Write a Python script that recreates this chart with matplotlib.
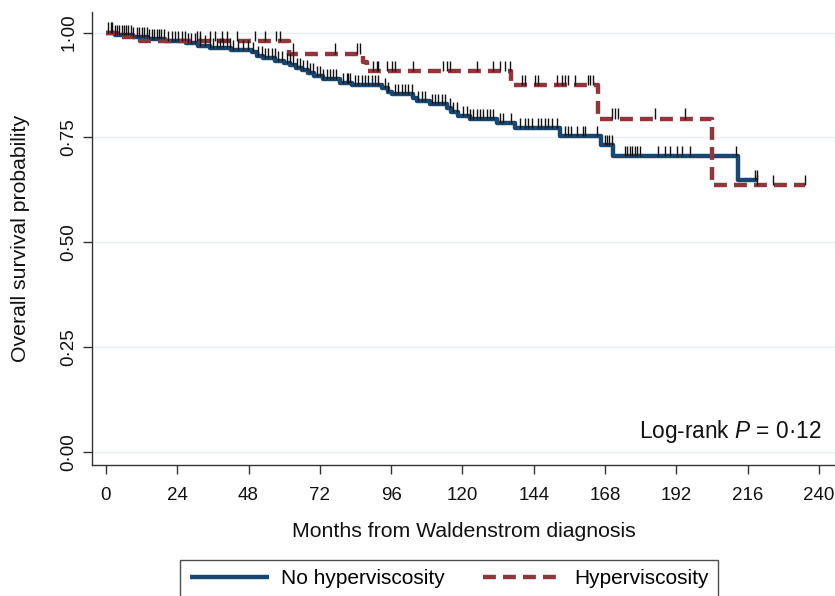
import numpy as np
import matplotlib
matplotlib.use("Agg")
import matplotlib.pyplot as plt
from matplotlib.ticker import FuncFormatter

plt.rcParams['font.family'] = ['Liberation Sans', 'DejaVu Sans']
plt.rcParams['mathtext.fontset'] = 'custom'
plt.rcParams['mathtext.rm'] = 'Liberation Sans'
plt.rcParams['mathtext.it'] = 'Liberation Sans:italic'

# ---- data ----
no_hv_times = [0, 3, 9, 14, 20, 27, 31, 35, 42, 49, 51, 53, 57, 60, 62, 64, 66, 68, 70, 73,
               78.8, 82.7, 92.8, 95, 96.2, 103.4, 104.6, 109, 114.7, 116.3, 118.6, 122.5,
               131.5, 137.7, 152.8, 166.8, 170.8, 212.8, 219.6]
no_hv_surv = [1.0, 0.995, 0.990, 0.985, 0.980, 0.975, 0.969, 0.963, 0.958, 0.953, 0.945,
              0.940, 0.933, 0.928, 0.922, 0.916, 0.910, 0.903, 0.897, 0.890,
              0.880, 0.874, 0.867, 0.859, 0.853, 0.843, 0.837, 0.829, 0.819, 0.811, 0.801,
              0.794, 0.785, 0.772, 0.753, 0.732, 0.706, 0.648, 0.648]
no_hv_censor = [0.8, 1.6, 2.2, 3.0, 3.8, 4.5, 5.3, 6.1, 6.7, 7.5, 8.3, 9.0, 10.3, 11.1, 12.0,
                12.8, 13.7, 14.5, 15.4, 16.2, 17.1, 17.8, 18.7, 19.5, 21, 22.1, 23.2, 24.3,
                25.5, 26.6, 27.7, 28.8, 30, 31.6, 33.3, 35, 36.1, 37.3, 38.4, 39.5, 40.6,
                41.7, 42.8, 44.5, 46.2, 47.9, 49.6, 51.3, 52.4, 53.5, 54.6, 55.8, 56.9, 58,
                59.1, 60.8, 61.9, 63, 64.2, 65.3, 66.4, 67.6, 68.7, 69.8, 70.9, 72, 73.1,
                74.3, 75.4, 76.5, 77.6, 79.9, 81, 81.6, 82.1, 83.8, 84.9, 86.1, 87.2, 88.3,
                89.4, 90.5, 91.6, 93.9, 95, 97.3, 98.4, 99.5, 100.6, 101.8, 102.9, 105.1,
                106.3, 107.4, 109.6, 110.7, 111.9, 113, 114.1, 115.8, 116.9, 118, 120.3,
                121.4, 122.5, 123.6, 124.8, 125.9, 127, 128.1, 129.2, 130.4, 132.6, 133.7,
                136.5, 139.3, 141, 142.1, 143.3, 145.5, 146.6, 147.8, 148.9, 150, 151.7,
                154.5, 155.6, 156.7, 158.4, 160.7, 161.2, 165.2, 168, 168.7, 169.4, 170.2,
                174.7, 175.5, 176.4, 177.2, 178, 178.8, 179.7, 185.9, 188.2, 189.8, 192.1,
                193.8, 196.6, 212, 218.4, 219.2]

hv_times = [0, 3.7, 11.4, 61.5, 86.6, 88, 136.5, 165.7, 203.9, 235.3]
hv_surv = [1.0, 0.989, 0.979, 0.950, 0.930, 0.908, 0.875, 0.795, 0.636, 0.636]
hv_censor = [30.5, 31.6, 35, 36.7, 38.9, 40.6, 44, 50.2, 53.5, 57.4, 58.6, 63, 77.1, 84.4,
             85.6, 90, 91.1, 91.6, 94.5, 96.2, 97.3, 103.4, 113.5, 114.7, 115.8, 124.8,
             130.4, 132.6, 134.3, 136.0, 139.9, 141, 144.4, 145.5, 151.7, 153.4, 154.5,
             155.6, 157.9, 162.3, 163.1, 164, 170.2, 171.3, 172.4, 184.8, 194.9, 219,
             224.6, 235.3]

x_ticks = [0, 24, 48, 72, 96, 120, 144, 168, 192, 216, 240]
y_ticks = [0.0, 0.25, 0.5, 0.75, 1.0]
labels = ["No hyperviscosity", "Hyperviscosity"]

NAVY = "#1a476f"
MAROON = "#90353b"

fig = plt.figure(figsize=(8.35, 5.96), dpi=100)
ax = fig.add_axes([0.1105, 0.2198, 0.8895, 0.7601])

for yt in y_ticks:
    ax.axhline(yt, color="#e6eef1", lw=1.0, zorder=0)

lw = 3.2
l1, = ax.step(no_hv_times, no_hv_surv, where="post", color=NAVY, lw=lw,
              solid_capstyle="butt", zorder=2, label=labels[0])
l2, = ax.step(hv_times, hv_surv, where="post", color=MAROON, lw=lw,
              dashes=(2.9, 1.6), zorder=3, label=labels[1])


def surv_at(times, surv, t):
    idx = np.searchsorted(np.asarray(times), t, side="right") - 1
    return np.asarray(surv)[idx]


cb = surv_at(no_hv_times, no_hv_surv, np.asarray(no_hv_censor))
ax.vlines(no_hv_censor, cb, cb + 0.024, color="#111111", lw=1.0, zorder=4)
cr = surv_at(hv_times, hv_surv, np.asarray(hv_censor))
ax.vlines(hv_censor, cr, cr + 0.024, color="#111111", lw=1.0, zorder=4)

ax.set_xlim(-4.6, 245.4)
ax.set_ylim(-0.031, 1.049)
ax.set_xticks(x_ticks)
ax.set_yticks(y_ticks)
ax.yaxis.set_major_formatter(FuncFormatter(lambda v, p: f"{v:.2f}".replace(".", "\u00b7")))
for lab in ax.get_yticklabels():
    lab.set_rotation(90)
    lab.set_va("center")
ax.tick_params(axis="both", direction="out", length=6.5, width=1.0, color="#333333",
               labelsize=13.5, labelcolor="#111111")
ax.tick_params(axis="x", pad=9)
ax.tick_params(axis="y", pad=4)
for side in ["top", "right"]:
    ax.spines[side].set_visible(False)
for side in ["left", "bottom"]:
    ax.spines[side].set_color("#333333")
    ax.spines[side].set_linewidth(1.0)

ax.set_xlabel("Months from Waldenstrom diagnosis", fontsize=15.3, labelpad=13, color="#111111")
ax.set_ylabel("Overall survival probability", fontsize=15.3, labelpad=22, color="#111111")

ax.text(241, 0.048, "Log-rank $\\mathit{P}$ = 0\u00b712", ha="right", va="center",
        fontsize=16.3, color="#111111")

leg = fig.legend([l1, l2], labels, loc="upper center", bbox_to_anchor=(0.538, 0.0604),
                 ncol=2, fontsize=15, frameon=True, fancybox=False, edgecolor="#222222",
                 handlelength=3.8, handletextpad=0.6, columnspacing=1.8, borderpad=0.45,
                 borderaxespad=0)
leg.get_frame().set_linewidth(1.0)

fig.savefig("out.png", dpi=100)
